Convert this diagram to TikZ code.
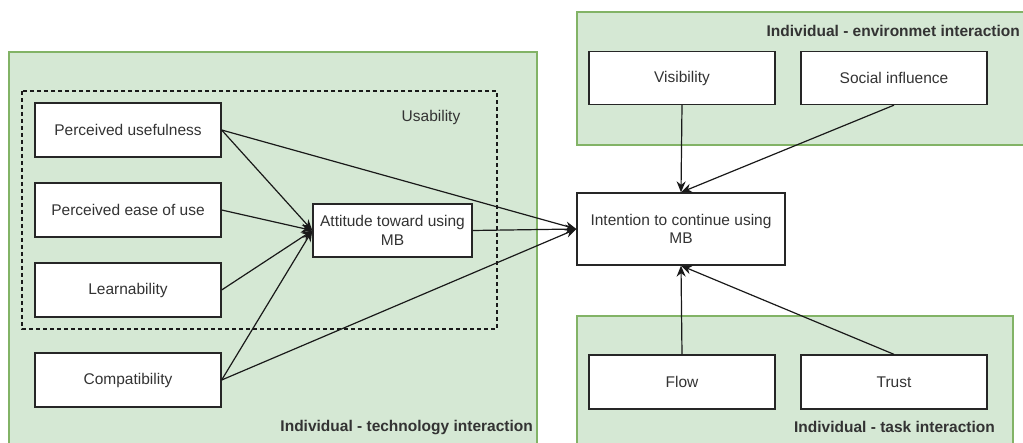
\documentclass[tikz,border=0pt]{standalone}
\usepackage{fontspec}
\setmainfont{Liberation Sans}
\usetikzlibrary{arrows.meta}
\definecolor{grpfill}{HTML}{D5E8D4}
\definecolor{grpline}{HTML}{82B366}
\definecolor{txt}{HTML}{333333}
\begin{document}
\begin{tikzpicture}[x=1pt,y=-1pt,
  box/.style={draw=black!85, fill=white, line width=1.3pt, minimum width=186pt, minimum height=54pt, inner sep=0pt, align=center, font=\fontsize{15.5}{18.5}\selectfont, text=txt},
  grp/.style={draw=grpline, fill=grpfill, line width=1.2pt},
  title/.style={font=\bfseries\fontsize{15.5}{18.5}\selectfont, text=txt, inner sep=0pt},
  conn/.style={-{Stealth[length=11pt,width=9pt]}, line width=1.2pt, draw=black!90},
  usab/.style={draw=black!90, line width=1.1pt, dash pattern=on 4pt off 3pt},
]
\useasboundingbox (0,0) rectangle (1023,443);
\clip (0,0) rectangle (1023,443);
% groups
\draw[grp] (9,52) rectangle (537,450);
\draw[grp] (577,12) rectangle (1030,145);
\draw[grp] (577,316) rectangle (1013,450);
\draw[usab] (22,91) rectangle (497,329);
% titles
\node[font=\fontsize{15.5}{18.5}\selectfont, text=txt] (usab) at (431,117) {Usability};
\node[title, anchor=east] (tgrp) at (533,428) {Individual - technology interaction};
\node[title, anchor=east] (egrp) at (1020,31) {Individual - environmet interaction};
\node[title, anchor=east] (kgrp) at (995,427) {Individual - task interaction};
% boxes
\node[box] (pu) at (128,130) {Perceived usefulness};
\node[box] (peu) at (128,210) {Perceived ease of use};
\node[box] (learn) at (128,290) {Learnability};
\node[box] (compat) at (128,380) {Compatibility};
\node[box, minimum width=159pt, minimum height=53pt] (att) at (392.5,230.5) {Attitude toward using\\MB};
\node[box, minimum width=208pt, minimum height=72pt] (int) at (681,229) {Intention to continue using\\MB};
\node[box, minimum height=53pt] (vis) at (682,78) {Visibility};
\node[box, minimum height=53pt] (soc) at (894,78) {Social influence};
\node[box] (flow) at (682,382) {Flow};
\node[box] (trust) at (894,382) {Trust};
% connectors
\draw[conn] (pu.east) -- (att.west);
\draw[conn] (peu.east) -- (att.west);
\draw[conn] (learn.east) -- (att.west);
\draw[conn] (compat.east) -- (att.west);
\draw[conn] (pu.east) -- (int.west);
\draw[conn] (compat.east) -- (int.west);
\draw[conn] (att.east) -- (int.west);
\draw[conn] (vis.south) -- (int.north);
\draw[conn] (soc.south) -- (int.north);
\draw[conn] (flow.north) -- (int.south);
\draw[conn] (trust.north) -- (int.south);
\end{tikzpicture}
\end{document}
